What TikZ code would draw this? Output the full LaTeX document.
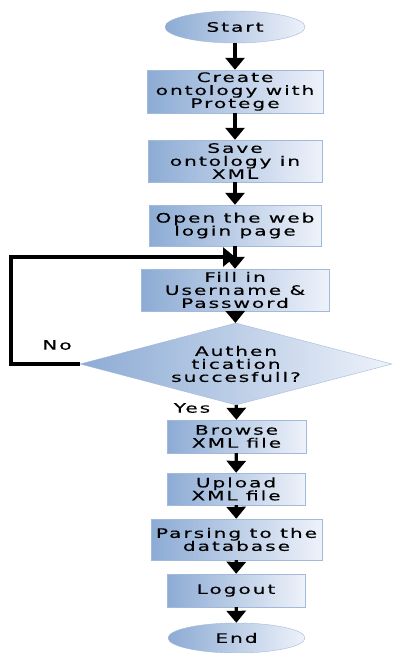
\documentclass[tikz,border=0pt]{standalone}
\usepackage{fontspec}
\newfontfamily\boxfont{DejaVu Sans}[FakeStretch=1.55,LetterSpace=15,FakeBold=0.3]
\usetikzlibrary{arrows.meta,shapes.geometric,positioning,calc}
\definecolor{boxleft}{HTML}{8CABD4}
\definecolor{boxright}{HTML}{EEF2FA}
\definecolor{boxline}{HTML}{A3B9D9}

\begin{document}
\begin{tikzpicture}
[x=1pt,y=1pt,
every node/.style={font=\boxfont\fontsize{13}{13}\selectfont,align=center,inner sep=0pt},
box/.style={rectangle,draw=boxline,left color=boxleft,right color=boxright},
term/.style={ellipse,draw=boxline,left color=boxleft,right color=boxright},
decide/.style={diamond,draw=boxline,left color=boxleft,right color=boxright,aspect=3.8},
edge/.style={-{Triangle[width=19pt,length=12pt]},line width=3.2pt}]
\useasboundingbox (0,0) rectangle (393,-653);
%%
\node[term,minimum width=140,minimum height=32] (start) at (235,-27) {Start};
\node[box,minimum width=176,minimum height=43] (create) at (235,-91.5) {Create\\ontology with\\Protege};
\node[box,minimum width=174,minimum height=42] (save) at (235,-161) {Save\\ontology in\\XML};
\node[box,minimum width=172,minimum height=41] (open) at (235,-225.5) {Open the web\\login page};
\node[box,minimum width=188,minimum height=42] (fill) at (235,-290) {Fill in\\Username \&\\Password};
\node[decide,minimum width=312,minimum height=82] (auth) at (236,-364) {Authen\\tication\\succesfull?};
\node[box,minimum width=139,minimum height=33] (browse) at (236.5,-436.5) {Browse\\XML file};
\node[box,minimum width=138,minimum height=32] (upload) at (236,-489) {Upload\\XML file};
\node[box,minimum width=171,minimum height=41] (parse) at (236.5,-539.5) {Parsing to the\\database};
\node[box,minimum width=138,minimum height=33] (logout) at (236,-590.5) {Logout};
\node[term,minimum width=137,minimum height=30] (end) at (236.5,-638) {End};
%%
\node (no) at (57,-345) {No};
\node (yes) at (192,-408) {Yes};
%%
\coordinate (loopL) at (11,-257);
\coordinate (loopR) at (235,-257);
%%
\draw[edge] (start) -- (create);
\draw[edge] (create) -- (save);
\draw[edge] (save) -- (open);
\draw[edge] (open) -- (fill);
\draw[edge] (fill) -- (auth);
\draw[edge] (auth) -- (browse);
\draw[edge] (browse) -- (upload);
\draw[edge] (upload) -- (parse);
\draw[edge] (parse) -- (logout);
\draw[edge] (logout) -- (end);
\draw[edge] (auth.west) -- (auth.west -| loopL) -- (loopL) -- (loopR);
\end{tikzpicture}
\end{document}
